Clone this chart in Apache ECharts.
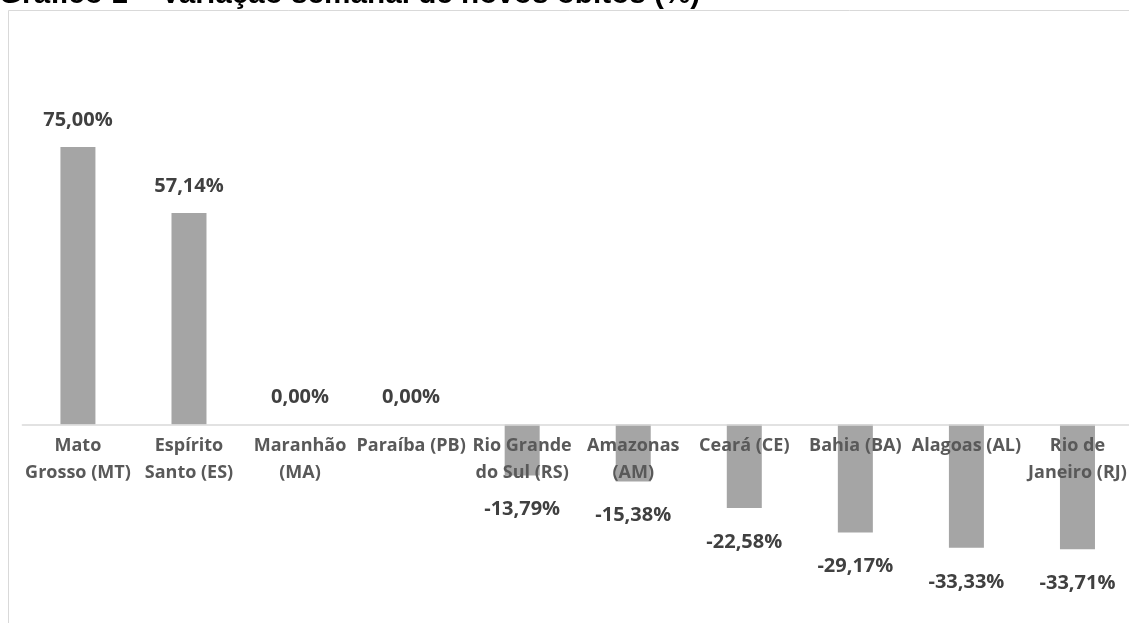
<!DOCTYPE html>
<html>
<head>
<meta charset="utf-8">
<script src="https://cdn.jsdelivr.net/npm/echarts@6/dist/echarts.min.js"></script>
<style>
html,body{margin:0;padding:0;background:#fff;}
#c{width:1129px;height:623px;}
</style>
</head>
<body>
<div id="c"></div>
<script>
const titleText = 'Gráfico 1 – Variação semanal de novos óbitos (%)';
const categories = [
  'Mato\nGrosso (MT)',
  'Espírito\nSanto (ES)',
  'Maranhão\n(MA)',
  'Paraíba (PB)',
  'Rio Grande\ndo Sul (RS)',
  'Amazonas\n(AM)',
  'Ceará (CE)',
  'Bahia (BA)',
  'Alagoas (AL)',
  'Rio de\nJaneiro (RJ)'
];
const values = [75.00, 57.14, 0.00, 0.00, -13.79, -15.38, -22.58, -29.17, -33.33, -33.71];

const fmt = v => v.toFixed(2).replace('.', ',') + '%';

const Y_MIN = -40, Y_MAX = 80;
const GRID_TOP = 128.5, GRID_BOTTOM = 50.5;
const plotH = 623 - GRID_TOP - GRID_BOTTOM;
// distance from bottom of the grid to the zero line, used to lift the category axis onto zero
const zeroOffset = plotH * (0 - Y_MIN) / (Y_MAX - Y_MIN);

const chart = echarts.init(document.getElementById('c'), null, {renderer: 'canvas'});
chart.setOption({
  animation: false,
  backgroundColor: '#ffffff',
  graphic: [
    {
      type: 'rect',
      shape: {x: 8.5, y: 10.5, width: 1130, height: 700},
      style: {fill: 'none', stroke: '#D9D9D9', lineWidth: 1},
      silent: true, z: 0
    },
    {
      type: 'text',
      x: -1, y: 9.5,
      style: {
        text: titleText,
        font: 'bold 29.7px "Liberation Sans", Arial, sans-serif',
        fill: '#000000',
        textVerticalAlign: 'bottom',
        verticalAlign: 'bottom'
      },
      z: 10
    }
  ],
  grid: {left: 22.4, right: -4, top: GRID_TOP, bottom: GRID_BOTTOM, containLabel: false, outerBoundsMode: 'none'},
  xAxis: {
    type: 'category',
    data: categories,
    z: 5,
    position: 'bottom',
    offset: -zeroOffset,
    axisLine: {show: true, onZero: false, lineStyle: {color: '#D9D9D9', width: 1.5}},
    axisTick: {show: false},
    axisLabel: {
      interval: 0,
      margin: 8,
      hideOverlap: false,
      color: '#595959',
      fontFamily: '"Open Sans", sans-serif',
      fontWeight: 'bold',
      fontSize: 18,
      lineHeight: 27
    },
    splitLine: {show: false}
  },
  yAxis: {
    type: 'value',
    min: Y_MIN, max: Y_MAX,
    show: false,
    splitLine: {show: false}
  },
  series: [{
    type: 'bar',
    barWidth: 35,
    itemStyle: {color: '#A5A5A5'},
    data: values.map(v => ({
      value: v,
      label: {position: v < 0 ? 'bottom' : 'top', distance: v < 0 ? 24 : 17}
    })),
    label: {
      show: true,
      formatter: p => fmt(p.value),
      color: '#404040',
      fontFamily: '"Open Sans", sans-serif',
      fontWeight: 'bold',
      fontSize: 20
    }
  }]
});
</script>
</body>
</html>
